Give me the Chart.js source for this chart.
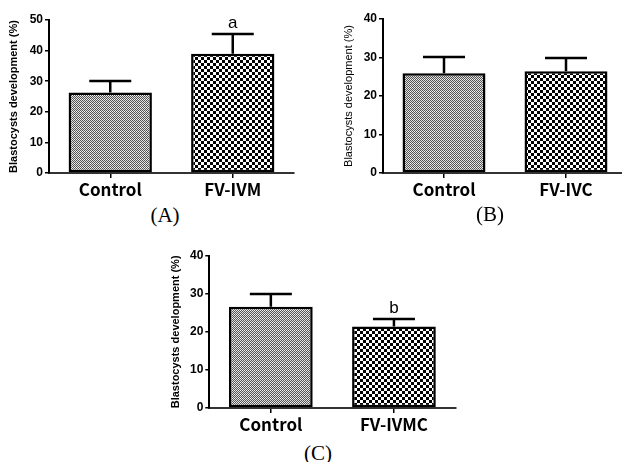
<!DOCTYPE html>
<html>
<head>
<meta charset="utf-8">
<script src="https://cdn.jsdelivr.net/npm/chart.js@4/dist/chart.umd.min.js"></script>
<style>
  html, body { margin:0; padding:0; background:#fff; width:622px; height:462px; overflow:hidden; position:relative; }
  .wrap { position:absolute; }
  .lab { position:absolute; font-family:"Liberation Serif", serif; font-size:21px; color:#000; transform:translate(-50%,-50%); white-space:nowrap; }
</style>
</head>
<body>
<div class="wrap" id="wA" style="left:0px;top:0px;width:305px;height:200px;"><canvas id="cA"></canvas></div>
<div class="wrap" id="wB" style="left:300px;top:0px;width:330px;height:200px;"><canvas id="cB"></canvas></div>
<div class="wrap" id="wC" style="left:150px;top:235px;width:320px;height:200px;"><canvas id="cC"></canvas></div>
<div class="lab" style="left:165px;top:215px;">(A)</div>
<div class="lab" style="left:490px;top:214px;">(B)</div>
<div class="lab" style="left:318px;top:453px;">(C)</div>
<script>
// ---- data ----
const categoriesA = ['Control', 'FV-IVM'];
const meansA = [26.3, 39.0];
const errTopsA = [30.2, 45.4];
const sigA = ['', 'a'];

const categoriesB = ['Control', 'FV-IVC'];
const meansB = [25.9, 26.4];
const errTopsB = [30.1, 30.0];
const sigB = ['', ''];

const categoriesC = ['Control', 'FV-IVMC'];
const meansC = [26.6, 21.4];
const errTopsC = [29.9, 23.4];
const sigC = ['', 'b'];

const yTitle = 'Blastocysts development (%)';

// ---- patterns ----
function makeFinePattern() {
  const c = document.createElement('canvas');
  c.width = 4; c.height = 4;
  const x = c.getContext('2d');
  for (let i = 0; i < 4; i++) for (let j = 0; j < 4; j++) {
    const dark = (i + j) % 2 === 0;
    x.fillStyle = dark ? '#555555' : (j === 3 ? '#f4f4f4' : '#dedede');
    x.fillRect(i, j, 1, 1);
  }
  return x.createPattern(c, 'repeat');
}
function makeCheckPattern() {
  const c = document.createElement('canvas');
  c.width = 6; c.height = 6;
  const x = c.getContext('2d');
  x.fillStyle = '#fff'; x.fillRect(0, 0, 6, 6);
  x.fillStyle = '#000';
  x.fillRect(0, 0, 3, 3); x.fillRect(3, 3, 3, 3);
  return x.createPattern(c, 'repeat');
}

const errPlugin = {
  id: 'err',
  afterDatasetsDraw(chart, args, opts) {
    const ctx = chart.ctx;
    const y = chart.scales.y;
    const meta = chart.getDatasetMeta(0);
    ctx.save();
    ctx.strokeStyle = '#000';
    ctx.lineWidth = 2.5;
    meta.data.forEach((bar, i) => {
      const yt = Math.round(y.getPixelForValue(opts.tops[i]));
      ctx.beginPath();
      ctx.moveTo(bar.x, bar.y);
      ctx.lineTo(bar.x, yt);
      ctx.moveTo(bar.x - 21, yt);
      ctx.lineTo(bar.x + 21, yt);
      ctx.stroke();
      if (opts.letters[i]) {
        ctx.fillStyle = '#000';
        ctx.font = '17px "Liberation Sans", Arial, sans-serif';
        ctx.textAlign = 'center';
        ctx.textBaseline = 'alphabetic';
        ctx.fillText(opts.letters[i], bar.x, yt - 6);
      }
    });
    ctx.restore();
  }
};

function makeChart(id, cats, means, tops, letters, cfg) {
  const ctx = document.getElementById(id);
  return new Chart(ctx, {
    type: 'bar',
    data: {
      labels: cats,
      datasets: [{
        data: means,
        backgroundColor: [makeFinePattern(), makeCheckPattern()],
        borderColor: '#000',
        borderWidth: 2.5,
        borderSkipped: false,
        barPercentage: 0.68,
        categoryPercentage: 1.0
      }]
    },
    options: {
      responsive: true,
      maintainAspectRatio: false,
      animation: false,
      devicePixelRatio: 1,
      layout: { padding: { left: cfg.padLeft, top: cfg.padTop, right: cfg.padRight, bottom: 0 } },
      plugins: {
        legend: { display: false },
        tooltip: { enabled: false },
        err: { tops: tops, letters: letters }
      },
      scales: {
        x: {
          offset: true,
          afterFit: (s) => { s.height = cfg.xH; },
          grid: { display: true, drawOnChartArea: false, drawTicks: true, tickLength: 5, offset: false, color: '#000', lineWidth: 1.5 },
          border: { display: true, color: '#333', width: 2 },
          ticks: { color: '#000', padding: 1, font: { family: '"Noto Sans CJK KR", "Open Sans", sans-serif', size: 17, weight: 'bold' } }
        },
        y: {
          min: 0, max: cfg.max,
          afterFit: (s) => { s.width = cfg.yW; },
          grid: { drawOnChartArea: false, drawTicks: true, tickLength: 4, color: '#000', lineWidth: 1.5 },
          border: { display: true, color: '#000', width: 2 },
          ticks: { stepSize: 10, color: '#000', padding: 2, font: { family: '"Liberation Sans", Arial, sans-serif', size: 12, weight: 'bold' } },
          title: { display: true, text: yTitle, color: '#000', padding: { top: 0, bottom: 0 }, font: { family: '"Liberation Sans", Arial, sans-serif', size: 11, weight: cfg.titleWeight } }
        }
      }
    },
    plugins: [errPlugin]
  });
}

makeChart('cA', categoriesA, meansA, errTopsA, sigA, { padLeft: 7.4, padTop: 20, padRight: 11, xH: 27, yW: 41.6, max: 50, titleWeight: 'bold' });
makeChart('cB', categoriesB, meansB, errTopsB, sigB, { padLeft: 42.7, padTop: 19, padRight: 3, xH: 27, yW: 40.3, max: 40, titleWeight: 'normal' });
makeChart('cC', categoriesC, meansC, errTopsC, sigC, { padLeft: 19.4, padTop: 20.7, padRight: 14.5, xH: 27, yW: 39.9, max: 40, titleWeight: 'bold' });
</script>
</body>
</html>
